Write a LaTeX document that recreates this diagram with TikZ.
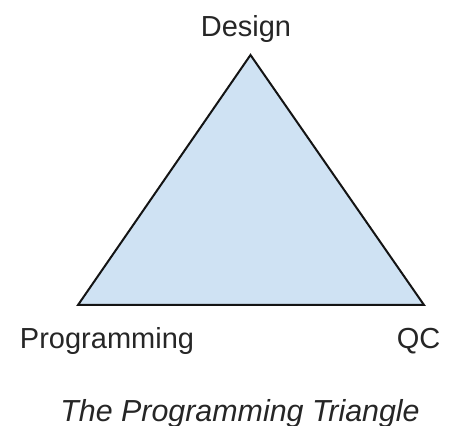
\documentclass[tikz,border=0pt]{standalone}
\usepackage{fontspec}
\setmainfont{Liberation Sans}
\usepackage{xcolor}
\definecolor{trifill}{RGB}{207,226,243}
\definecolor{triline}{RGB}{20,20,20}
\tikzstyle{corner} = [font=\fontsize{14.5}{17}\selectfont, text=black!85, anchor=base, inner sep=0pt]

\begin{document}
\begin{tikzpicture}[x=0.5pt,y=0.5pt]
\useasboundingbox (0,0) rectangle (449,426);

% Corners of the triangle
\coordinate (design) at (250.5,371);
\coordinate (prog) at (78,121);
\coordinate (qc) at (424,121);

% Triangle
\draw[line width=1pt, triline, fill=trifill, line join=miter] (design) -- (qc) -- (prog) -- cycle;

% Labels
\node[corner] (designlabel) at (246,389) {Design};
\node[corner] (proglabel) at (107,77) {Programming};
\node[corner] (qclabel) at (418.5,77) {QC};

% Caption below
\node[corner, font=\fontsize{15.2}{18}\selectfont\itshape] (caption) at (240,4) {The Programming Triangle};
\end{tikzpicture}
\end{document}
